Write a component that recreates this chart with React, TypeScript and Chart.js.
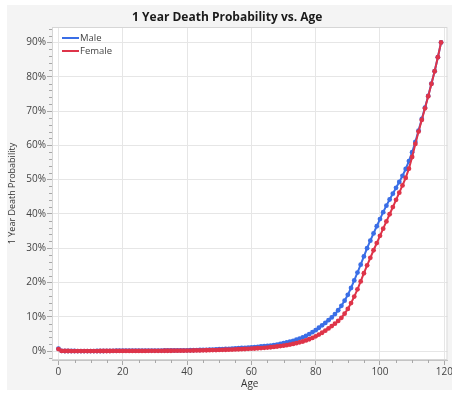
import React, { useEffect, useRef } from "react";
import { Chart, registerables } from "chart.js";

Chart.register(...registerables);

// Age in years, 0 through 119
const ages: number[] = Array.from({ length: 120 }, (_, i) => i);

// One-year probability of death (%) by age
const male: number[] = [
  0.7, 0.05, 0.03, 0.02, 0.02, 0.02, 0.01, 0.01, 0.01, 0.01,
  0.01, 0.01, 0.02, 0.02, 0.03, 0.05, 0.06, 0.08, 0.1, 0.11,
  0.13, 0.14, 0.15, 0.15, 0.15, 0.15, 0.15, 0.15, 0.15, 0.15,
  0.15, 0.16, 0.16, 0.17, 0.17, 0.18, 0.19, 0.2, 0.21, 0.22,
  0.23, 0.25, 0.27, 0.29, 0.32, 0.35, 0.38, 0.41, 0.45, 0.49,
  0.53, 0.57, 0.62, 0.67, 0.72, 0.78, 0.84, 0.9, 0.96, 1.03,
  1.1, 1.17, 1.25, 1.33, 1.41, 1.5, 1.62, 1.75, 1.9, 2.1,
  2.3, 2.5, 2.75, 3.0, 3.3, 3.65, 4.0, 4.45, 4.95, 5.5,
  6.1, 6.8, 7.5, 8.2, 9.0, 9.8, 10.8, 11.9, 13.2, 14.7,
  16.4, 18.4, 20.6, 22.9, 25.2, 27.6, 30.0, 32.2, 34.3, 36.4,
  38.5, 40.5, 42.4, 44.2, 45.9, 47.6, 49.3, 51.1, 53.1, 55.4,
  58.0, 61.0, 64.3, 67.7, 71.0, 74.4, 78.0, 81.6, 85.7, 90.0,
];

const female: number[] = [
  0.6, 0.04, 0.02, 0.02, 0.01, 0.01, 0.01, 0.01, 0.01, 0.01,
  0.01, 0.01, 0.01, 0.02, 0.02, 0.03, 0.03, 0.04, 0.04, 0.04,
  0.05, 0.05, 0.05, 0.05, 0.05, 0.05, 0.06, 0.06, 0.07, 0.07,
  0.07, 0.08, 0.08, 0.09, 0.09, 0.1, 0.11, 0.11, 0.12, 0.13,
  0.14, 0.15, 0.17, 0.18, 0.2, 0.22, 0.24, 0.26, 0.28, 0.3,
  0.33, 0.36, 0.39, 0.42, 0.45, 0.49, 0.53, 0.57, 0.61, 0.66,
  0.71, 0.76, 0.82, 0.88, 0.95, 1.03, 1.12, 1.22, 1.33, 1.45,
  1.58, 1.73, 1.9, 2.09, 2.3, 2.54, 2.8, 3.1, 3.45, 3.85,
  4.3, 4.8, 5.35, 5.95, 6.6, 7.3, 8.0, 8.8, 9.7, 10.9,
  12.3, 14.0, 15.9, 18.0, 20.3, 22.7, 25.0, 27.2, 29.4, 31.5,
  33.6, 35.7, 37.8, 39.9, 42.0, 44.1, 46.2, 48.3, 50.5, 53.2,
  56.6, 60.4, 64.0, 67.4, 70.8, 74.3, 77.9, 81.6, 85.7, 90.0,
];

const xTicks: number[] = [0, 20, 40, 60, 80, 100, 120];
const xMinorTicks: number[] = [5, 10, 15, 25, 30, 35, 45, 50, 55, 65, 70, 75, 85, 90, 95, 105, 110, 115];
const yTicks: number[] = [0, 10, 20, 30, 40, 50, 60, 70, 80, 90];
const yMinorTicks: number[] = [
  -2, 2, 4, 6, 8, 12, 14, 16, 18, 22, 24, 26, 28, 32, 34, 36, 38, 42, 44, 46, 48,
  52, 54, 56, 58, 62, 64, 66, 68, 72, 74, 76, 78, 82, 84, 86, 88, 92, 94,
];

const seriesNames = ["Male", "Female"];
const MALE_COLOR = "#3a6ee6";
const FEMALE_COLOR = "#de3449";
const FONT = "'Open Sans', 'Noto Sans', sans-serif";

const plotDecor = {
  id: "plotDecor",
  beforeDraw(chart: any) {
    const { ctx, chartArea: a } = chart;
    ctx.save();
    ctx.fillStyle = "#ffffff";
    ctx.fillRect(a.left, a.top, a.right - a.left, a.bottom - a.top);
    ctx.restore();
  },
  beforeDatasetsDraw(chart: any) {
    const { ctx, chartArea: a } = chart;
    ctx.save();
    ctx.strokeStyle = "#d6d6d6";
    ctx.lineWidth = 1;
    ctx.strokeRect(a.left + 0.5, a.top + 0.5, a.right - a.left - 1, a.bottom - a.top - 1);
    ctx.restore();
  },
  afterDraw(chart: any) {
    const { ctx, chartArea: a, scales } = chart;
    ctx.save();
    ctx.strokeStyle = "#a8a8a8";
    ctx.lineWidth = 1;
    ctx.beginPath();
    xMinorTicks.forEach((v) => {
      const px = Math.round(scales.x.getPixelForValue(v)) + 0.5;
      ctx.moveTo(px, a.bottom);
      ctx.lineTo(px, a.bottom + 3);
    });
    yMinorTicks.forEach((v) => {
      const py = Math.round(scales.y.getPixelForValue(v)) + 0.5;
      ctx.moveTo(a.left, py);
      ctx.lineTo(a.left - 3, py);
    });
    ctx.stroke();

    // legend inside the plot, top-left
    const colors = [MALE_COLOR, FEMALE_COLOR];
    ctx.font = `9.5px ${FONT}`;
    ctx.textBaseline = "middle";
    ctx.textAlign = "left";
    seriesNames.forEach((name, i) => {
      const y = a.top + 11 + i * 13;
      ctx.strokeStyle = colors[i];
      ctx.lineWidth = 2;
      ctx.beginPath();
      ctx.moveTo(a.left + 10, y);
      ctx.lineTo(a.left + 27, y);
      ctx.stroke();
      ctx.fillStyle = "#444";
      ctx.fillText(name, a.left + 28, y);
    });
    ctx.restore();
  },
};

export default function App() {
  const canvasRef = useRef<HTMLCanvasElement | null>(null);

  useEffect(() => {
    const canvas = canvasRef.current;
    if (!canvas) return;
    const chart = new Chart(canvas, {
      type: "line",
      data: {
        datasets: [
          {
            label: seriesNames[1],
            data: ages.map((a, i) => ({ x: a, y: female[i] })),
            borderColor: FEMALE_COLOR,
            backgroundColor: FEMALE_COLOR,
            borderWidth: 2,
            pointRadius: 2.4,
            pointBorderWidth: 0,
            pointBackgroundColor: FEMALE_COLOR,
          },
          {
            label: seriesNames[0],
            data: ages.map((a, i) => ({ x: a, y: male[i] })),
            borderColor: MALE_COLOR,
            backgroundColor: MALE_COLOR,
            borderWidth: 2,
            pointRadius: 2.4,
            pointBorderWidth: 0,
            pointBackgroundColor: MALE_COLOR,
          },
        ],
      },
      options: {
        animation: false,
        responsive: false,
        maintainAspectRatio: false,
        layout: { padding: { left: 0, right: 4.5, top: 0, bottom: 0 } },
        plugins: {
          legend: { display: false },
          tooltip: { enabled: false },
          title: {
            display: true,
            text: "1 Year Death Probability vs. Age",
            color: "#1a1a1a",
            font: { family: FONT, size: 12, weight: "bold" },
            padding: { top: 5, bottom: 2.6 },
          },
        },
        scales: {
          x: {
            type: "linear",
            min: -2,
            max: 121,
            afterBuildTicks: (scale: any) => {
              scale.ticks = xTicks.map((v) => ({ value: v }));
            },
            afterFit: (scale: any) => {
              scale.height = 30;
              scale.paddingLeft = 0;
              scale.paddingRight = 0;
            },
            grid: {
              color: "#e6e6e6",
              tickColor: "#a8a8a8",
              tickLength: 5,
              drawTicks: true,
            },
            border: { display: true, color: "#c4c4c4" },
            ticks: {
              color: "#444",
              font: { family: FONT, size: 10 },
              padding: 1,
              maxRotation: 0,
              callback: (v: any) => String(v),
            },
            title: {
              display: true,
              text: "Age",
              color: "#333",
              font: { family: FONT, size: 10 },
              padding: 0,
            },
          },
          y: {
            type: "linear",
            min: -2.6,
            max: 94.5,
            afterBuildTicks: (scale: any) => {
              scale.ticks = yTicks.map((v) => ({ value: v }));
            },
            afterFit: (scale: any) => {
              scale.width = 45;
              scale.paddingTop = 0;
              scale.paddingBottom = 0;
            },
            grid: {
              color: "#e6e6e6",
              tickColor: "#a8a8a8",
              tickLength: 5,
              drawTicks: true,
            },
            border: { display: true, color: "#c4c4c4" },
            ticks: {
              color: "#444",
              font: { family: FONT, size: 10 },
              padding: 1,
              callback: (v: any) => `${v}%`,
            },
            title: {
              display: true,
              text: "1 Year Death Probability",
              color: "#333",
              font: { family: FONT, size: 9 },
              padding: 0,
            },
          },
        },
      },
      plugins: [plotDecor],
    });
    return () => chart.destroy();
  }, []);

  return (
    <div
      style={{
        position: "absolute",
        left: 0,
        top: 0,
        width: 456,
        height: 393,
        background: "#ffffff",
      }}
    >
      <div
        style={{
          position: "absolute",
          left: 7,
          top: 5,
          width: 445,
          height: 385,
          background: "#f4f4f4",
        }}
      >
        <canvas ref={canvasRef} width={445} height={385} style={{ display: "block" }} />
      </div>
    </div>
  );
}
